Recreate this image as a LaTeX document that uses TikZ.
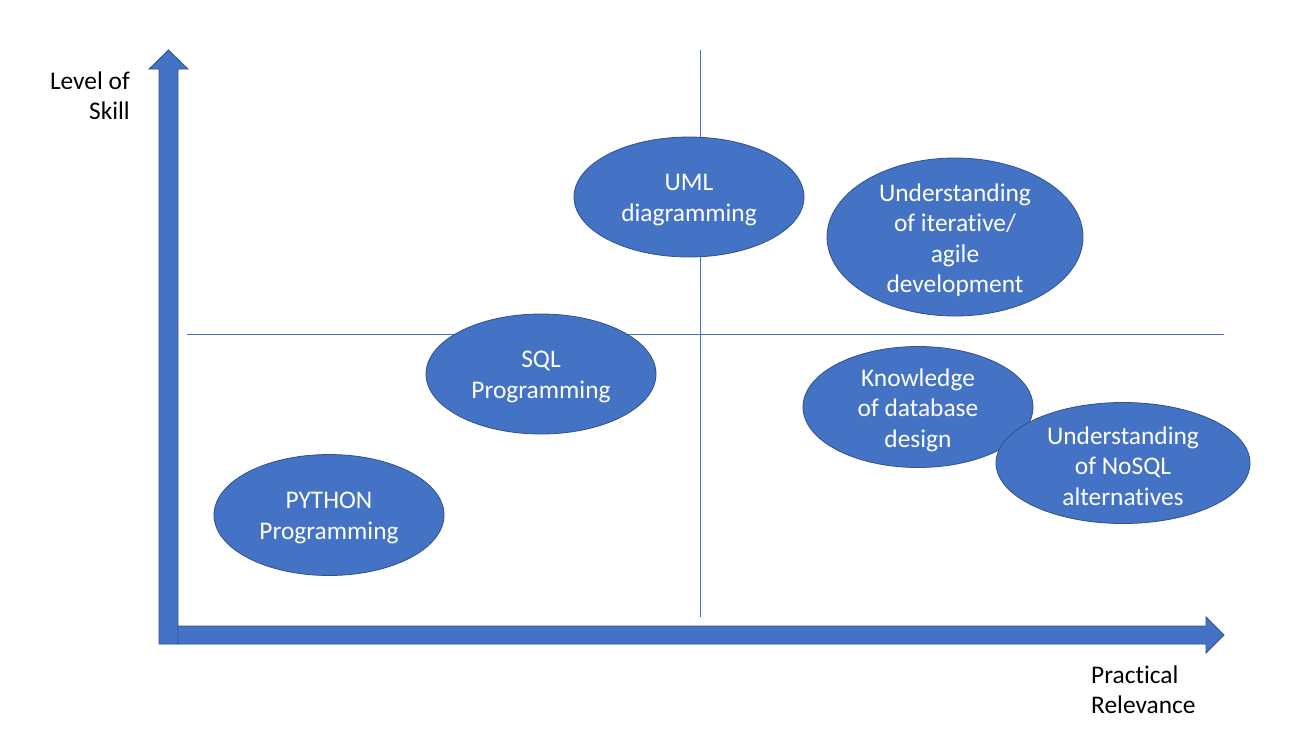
\documentclass[tikz,border=0pt]{standalone}
\usepackage{fontspec}
\setmainfont{Carlito}[RawFeature=-liga]
\usetikzlibrary{shapes.geometric}
\definecolor{accent}{HTML}{4472C4}
\definecolor{edge}{HTML}{2F528F}
\begin{document}
\begin{tikzpicture}[x=1pt,y=-1pt,
  blob/.style={ellipse,fill=accent,draw=edge,line width=0.8pt,inner sep=0pt},
  blobtext/.style={text=white,align=center,inner sep=0pt,font=\fontsize{25.4}{30.5}\selectfont},
  axislabel/.style={text=black,font=\fontsize{25.4}{30.5}\selectfont,inner sep=0pt},
  guide/.style={draw=accent,line width=1pt},
  bigarrow/.style={fill=accent,draw=edge,line width=0.8pt,line join=miter}]
\useasboundingbox (0,0) rectangle (1306,737);
% guide lines
\coordinate (vt) at (700,50);
\coordinate (vb) at (700,617);
\coordinate (hl) at (187,334);
\coordinate (hr) at (1224,334);
\draw[guide] (vt) -- (vb);
\draw[guide] (hl) -- (hr);
% horizontal axis arrow
\draw[bigarrow] (177,626) -- (1206,626) -- (1206,617) -- (1224,635) -- (1206,653) -- (1206,644) -- (177,644) -- cycle;
% vertical axis arrow
\draw[bigarrow] (159,644) -- (159,69) -- (149,69) -- (168.5,50) -- (188,69) -- (178,69) -- (178,644) -- cycle;
% ellipses
\node[blob,minimum width=230pt,minimum height=120pt] (uml) at (689,197) {};
\node[blobtext] at ([yshift=-3pt]uml.center) {UML\\diagramming};
\node[blob,minimum width=256pt,minimum height=158pt] (agile) at (955,237) {};
\node[blobtext] at ([yshift=-3pt]agile.center) {Understanding\\of iterative/\\agile\\development};
\node[blob,minimum width=230pt,minimum height=120pt] (sql) at (541,374) {};
\node[blobtext] at ([yshift=-3pt]sql.center) {SQL\\Programming};
\node[blob,minimum width=230pt,minimum height=121pt] (db) at (918,407) {};
\node[blobtext] at ([yshift=-3pt]db.center) {Knowledge\\of database\\design};
\node[blob,minimum width=254pt,minimum height=121pt] (nosql) at (1123,463) {};
\node[blobtext] at ([yshift=-3pt]nosql.center) {Understanding\\of NoSQL\\alternatives};
\node[blob,minimum width=230pt,minimum height=121pt] (py) at (329,515) {};
\node[blobtext] at ([yshift=-3pt]py.center) {PYTHON\\Programming};
% axis labels
\node[axislabel,align=right,anchor=east] (ylab) at (130,96) {Level of\\Skill};
\node[axislabel,align=left,anchor=west] (xlab) at (1091,690) {Practical\\Relevance};
\end{tikzpicture}
\end{document}
